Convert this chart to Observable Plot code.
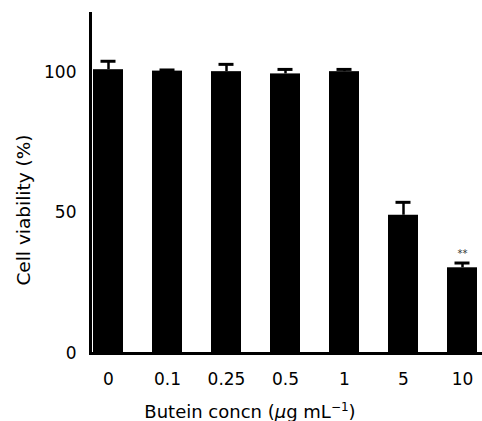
<!DOCTYPE html>
<html>
<head>
<meta charset="utf-8">
<script src="https://cdn.jsdelivr.net/npm/d3@7"></script>
<script src="https://cdn.jsdelivr.net/npm/@observablehq/plot@0.6"></script>
<style>
  html, body { margin: 0; padding: 0; background: #fff; }
</style>
</head>
<body>
<div id="chart"></div>
<script>
const concentrations = ["0", "0.1", "0.25", "0.5", "1", "5", "10"];
const viability = [101.0, 100.5, 100.3, 99.5, 100.3, 49.2, 30.5];
const errors = [3.0, 0.4, 2.6, 1.6, 0.8, 4.6, 1.7];
const significance = ["", "", "", "", "", "", "**"];
const yTicks = [0, 50, 100];
const yLabel = "Cell viability (%)";

const data = concentrations.map((c, i) => ({c, v: viability[i], e: errors[i], s: significance[i]}));

const font = "'DejaVu Sans', sans-serif";

const chart = Plot.plot({
  width: 482,
  height: 421,
  marginLeft: 90,
  marginRight: 0,
  marginTop: 13,
  marginBottom: 68,
  style: {fontFamily: font, fontSize: "17px", color: "black", background: "white"},
  x: {domain: concentrations, range: [92, 478], paddingInner: 0.5, paddingOuter: 0},
  y: {domain: [0, 121]},
  marks: [
    Plot.barY(data, {x: "c", y: "v", fill: "black"}),
    Plot.ruleX(data, {x: "c", y1: "v", y2: d => d.v + d.e, stroke: "black", strokeWidth: 2.5}),
    Plot.tickY(data, {x: "c", y: d => d.v + d.e, stroke: "black", strokeWidth: 3, insetLeft: 7.5, insetRight: 7.5}),
    Plot.text(data, {x: "c", y: d => d.v + d.e, text: "s", dy: -6, lineAnchor: "bottom", fontSize: 10, fill: "#333"}),
    Plot.ruleY([0], {stroke: "black", strokeWidth: 3}),
    Plot.frame({anchor: "left", stroke: "black", strokeWidth: 3}),
    Plot.axisY({ticks: yTicks, tickSize: 0, tickPadding: 14, label: null, fontSize: 17}),
    Plot.axisX({tickSize: 0, tickPadding: 19, label: null, fontSize: 17})
  ]
});

const svg = d3.select(chart);
svg.append("text")
  .attr("transform", "translate(23,210) rotate(-90)")
  .attr("text-anchor", "middle")
  .attr("dominant-baseline", "central")
  .attr("font-family", font)
  .attr("font-size", 18.5)
  .attr("fill", "black")
  .text(yLabel);

const xl = svg.append("text")
  .attr("x", 250)
  .attr("y", 418)
  .attr("text-anchor", "middle")
  .attr("font-family", font)
  .attr("font-size", 18)
  .attr("fill", "black");
xl.append("tspan").text("Butein concn (");
xl.append("tspan").attr("font-style", "italic").text("μ");
xl.append("tspan").text("g mL");
xl.append("tspan").attr("font-size", 12).attr("dy", -7).text("−1");
xl.append("tspan").attr("dy", 7).text(")");

document.getElementById("chart").appendChild(chart);
</script>
</body>
</html>
